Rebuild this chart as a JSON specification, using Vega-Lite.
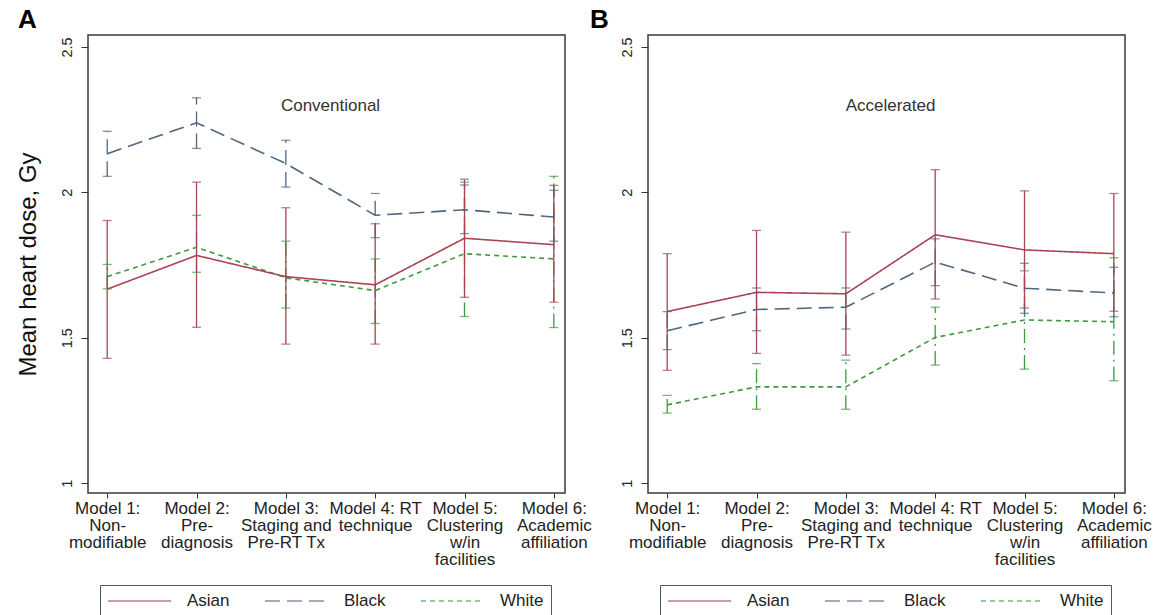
{
  "$schema": "https://vega.github.io/schema/vega-lite/v6.json",
  "padding": {"left": 15, "top": 6, "right": 0, "bottom": 0},
  "datasets": {
    "pts": [
      {"panel": "A", "race": "White", "model": 1, "mean": 1.710, "lo": 1.668, "hi": 1.752},
      {"panel": "A", "race": "White", "model": 2, "mean": 1.811, "lo": 1.725, "hi": 1.921},
      {"panel": "A", "race": "White", "model": 3, "mean": 1.706, "lo": 1.602, "hi": 1.832},
      {"panel": "A", "race": "White", "model": 4, "mean": 1.662, "lo": 1.549, "hi": 1.771},
      {"panel": "A", "race": "White", "model": 5, "mean": 1.789, "lo": 1.573, "hi": 2.035},
      {"panel": "A", "race": "White", "model": 6, "mean": 1.771, "lo": 1.535, "hi": 2.055},
      {"panel": "A", "race": "Black", "model": 1, "mean": 2.133, "lo": 2.055, "hi": 2.210},
      {"panel": "A", "race": "Black", "model": 2, "mean": 2.239, "lo": 2.151, "hi": 2.325},
      {"panel": "A", "race": "Black", "model": 3, "mean": 2.099, "lo": 2.018, "hi": 2.179},
      {"panel": "A", "race": "Black", "model": 4, "mean": 1.921, "lo": 1.844, "hi": 1.996},
      {"panel": "A", "race": "Black", "model": 5, "mean": 1.940, "lo": 1.858, "hi": 2.025},
      {"panel": "A", "race": "Black", "model": 6, "mean": 1.915, "lo": 1.832, "hi": 2.007},
      {"panel": "A", "race": "Asian", "model": 1, "mean": 1.667, "lo": 1.429, "hi": 1.903},
      {"panel": "A", "race": "Asian", "model": 2, "mean": 1.783, "lo": 1.536, "hi": 2.035},
      {"panel": "A", "race": "Asian", "model": 3, "mean": 1.710, "lo": 1.478, "hi": 1.947},
      {"panel": "A", "race": "Asian", "model": 4, "mean": 1.682, "lo": 1.478, "hi": 1.892},
      {"panel": "A", "race": "Asian", "model": 5, "mean": 1.842, "lo": 1.639, "hi": 2.045},
      {"panel": "A", "race": "Asian", "model": 6, "mean": 1.820, "lo": 1.622, "hi": 2.024},
      {"panel": "B", "race": "White", "model": 1, "mean": 1.269, "lo": 1.241, "hi": 1.302},
      {"panel": "B", "race": "White", "model": 2, "mean": 1.331, "lo": 1.254, "hi": 1.411},
      {"panel": "B", "race": "White", "model": 3, "mean": 1.331, "lo": 1.254, "hi": 1.423},
      {"panel": "B", "race": "White", "model": 4, "mean": 1.501, "lo": 1.406, "hi": 1.605},
      {"panel": "B", "race": "White", "model": 5, "mean": 1.561, "lo": 1.392, "hi": 1.730},
      {"panel": "B", "race": "White", "model": 6, "mean": 1.555, "lo": 1.352, "hi": 1.775},
      {"panel": "B", "race": "Black", "model": 1, "mean": 1.524, "lo": 1.459, "hi": 1.590},
      {"panel": "B", "race": "Black", "model": 2, "mean": 1.597, "lo": 1.524, "hi": 1.671},
      {"panel": "B", "race": "Black", "model": 3, "mean": 1.605, "lo": 1.530, "hi": 1.671},
      {"panel": "B", "race": "Black", "model": 4, "mean": 1.760, "lo": 1.679, "hi": 1.840},
      {"panel": "B", "race": "Black", "model": 5, "mean": 1.670, "lo": 1.584, "hi": 1.756},
      {"panel": "B", "race": "Black", "model": 6, "mean": 1.654, "lo": 1.572, "hi": 1.742},
      {"panel": "B", "race": "Asian", "model": 1, "mean": 1.590, "lo": 1.388, "hi": 1.789},
      {"panel": "B", "race": "Asian", "model": 2, "mean": 1.656, "lo": 1.446, "hi": 1.869},
      {"panel": "B", "race": "Asian", "model": 3, "mean": 1.651, "lo": 1.440, "hi": 1.863},
      {"panel": "B", "race": "Asian", "model": 4, "mean": 1.854, "lo": 1.633, "hi": 2.078},
      {"panel": "B", "race": "Asian", "model": 5, "mean": 1.802, "lo": 1.602, "hi": 2.005},
      {"panel": "B", "race": "Asian", "model": 6, "mean": 1.789, "lo": 1.591, "hi": 1.996}
    ]
  },
  "spacing": -3,
  "hconcat": [
    {
      "title": {"text": "A", "dx": 2},
      "width": 477,
      "height": 458,
      "layer": [
        {
          "data": {"name": "pts"},
          "transform": [{"filter": "datum.panel === 'A'"}],
          "encoding": {
            "x": {"field": "model", "type": "quantitative", "scale": {"domain": [0.785, 6.125], "nice": false, "zero": false}, "axis": {"title": null, "values": [1, 2, 3, 4, 5, 6], "labelExpr": "datum.value == 1 ? ['Model 1:', 'Non-', 'modifiable'] : datum.value == 2 ? ['Model 2:', 'Pre-', 'diagnosis'] : datum.value == 3 ? ['Model 3:', 'Staging and', 'Pre-RT Tx'] : datum.value == 4 ? ['Model 4: RT', 'technique'] : datum.value == 5 ? ['Model 5:', 'Clustering', 'w/in', 'facilities'] : ['Model 6:', 'Academic', 'affiliation']"}},
            "color": {"field": "race", "type": "nominal", "scale": {"domain": ["Asian", "Black", "White"], "range": ["#ab4352", "#4e6680", "#3d9a3d"]}, "legend": {"title": null, "symbolType": "stroke"}}
          },
          "layer": [
            {
              "mark": {"type": "rule", "strokeWidth": 1.3},
              "encoding": {
                "y": {"field": "lo", "type": "quantitative", "scale": {"domain": [0.966, 2.541], "nice": false, "zero": false}, "title": "Mean heart dose, Gy", "axis": {"values": [1, 1.5, 2, 2.5], "format": "~g"}},
                "y2": {"field": "hi"},
                "strokeDash": {"condition": [{"test": "datum.race === 'Black'", "value": [15, 7]}, {"test": "datum.race === 'White'", "value": [14, 5, 2, 5]}], "value": [1, 0]}
              }
            },
            {
              "mark": {"type": "tick", "orient": "horizontal", "size": 9, "thickness": 1.3},
              "encoding": {"y": {"field": "lo", "type": "quantitative", "title": "Mean heart dose, Gy", "axis": {"values": [1, 1.5, 2, 2.5], "format": "~g"}}}
            },
            {
              "mark": {"type": "tick", "orient": "horizontal", "size": 9, "thickness": 1.3},
              "encoding": {"y": {"field": "hi", "type": "quantitative", "title": "Mean heart dose, Gy", "axis": {"values": [1, 1.5, 2, 2.5], "format": "~g"}}}
            },
            {
              "mark": {"type": "line", "strokeWidth": 1.6},
              "encoding": {
                "y": {"field": "mean", "type": "quantitative", "title": "Mean heart dose, Gy", "axis": {"values": [1, 1.5, 2, 2.5], "format": "~g"}},
                "strokeDash": {"field": "race", "type": "nominal", "scale": {"domain": ["Asian", "Black", "White"], "range": [[1, 0], [15, 7], [5, 4]]}, "legend": {"title": null}}
              }
            }
          ]
        },
        {
          "data": {"values": [{"note": "Conventional"}]},
          "mark": {"type": "text", "fontSize": 17, "color": "#333", "align": "center", "baseline": "middle"},
          "encoding": {
            "x": {"datum": 3.5, "type": "quantitative"},
            "y": {"datum": 2.297, "type": "quantitative"},
            "text": {"field": "note"}
          }
        }
      ]
    },
    {
      "title": {"text": "B", "dx": -29},
      "width": 477,
      "height": 458,
      "layer": [
        {
          "data": {"name": "pts"},
          "transform": [{"filter": "datum.panel === 'B'"}],
          "encoding": {
            "x": {"field": "model", "type": "quantitative", "scale": {"domain": [0.785, 6.125], "nice": false, "zero": false}, "axis": {"title": null, "values": [1, 2, 3, 4, 5, 6], "labelExpr": "datum.value == 1 ? ['Model 1:', 'Non-', 'modifiable'] : datum.value == 2 ? ['Model 2:', 'Pre-', 'diagnosis'] : datum.value == 3 ? ['Model 3:', 'Staging and', 'Pre-RT Tx'] : datum.value == 4 ? ['Model 4: RT', 'technique'] : datum.value == 5 ? ['Model 5:', 'Clustering', 'w/in', 'facilities'] : ['Model 6:', 'Academic', 'affiliation']"}},
            "color": {"field": "race", "type": "nominal", "scale": {"domain": ["Asian", "Black", "White"], "range": ["#ab4352", "#4e6680", "#3d9a3d"]}, "legend": {"title": null, "symbolType": "stroke"}}
          },
          "layer": [
            {
              "mark": {"type": "rule", "strokeWidth": 1.3},
              "encoding": {
                "y": {"field": "lo", "type": "quantitative", "scale": {"domain": [0.966, 2.541], "nice": false, "zero": false}, "title": null, "axis": {"values": [1, 1.5, 2, 2.5], "format": "~g"}},
                "y2": {"field": "hi"},
                "strokeDash": {"condition": [{"test": "datum.race === 'Black'", "value": [15, 7]}, {"test": "datum.race === 'White'", "value": [14, 5, 2, 5]}], "value": [1, 0]}
              }
            },
            {
              "mark": {"type": "tick", "orient": "horizontal", "size": 9, "thickness": 1.3},
              "encoding": {"y": {"field": "lo", "type": "quantitative", "title": null, "axis": {"values": [1, 1.5, 2, 2.5], "format": "~g"}}}
            },
            {
              "mark": {"type": "tick", "orient": "horizontal", "size": 9, "thickness": 1.3},
              "encoding": {"y": {"field": "hi", "type": "quantitative", "title": null, "axis": {"values": [1, 1.5, 2, 2.5], "format": "~g"}}}
            },
            {
              "mark": {"type": "line", "strokeWidth": 1.6},
              "encoding": {
                "y": {"field": "mean", "type": "quantitative", "title": null, "axis": {"values": [1, 1.5, 2, 2.5], "format": "~g"}},
                "strokeDash": {"field": "race", "type": "nominal", "scale": {"domain": ["Asian", "Black", "White"], "range": [[1, 0], [15, 7], [5, 4]]}, "legend": {"title": null}}
              }
            }
          ]
        },
        {
          "data": {"values": [{"note": "Accelerated"}]},
          "mark": {"type": "text", "fontSize": 17, "color": "#333", "align": "center", "baseline": "middle"},
          "encoding": {
            "x": {"datum": 3.5, "type": "quantitative"},
            "y": {"datum": 2.297, "type": "quantitative"},
            "text": {"field": "note"}
          }
        }
      ]
    }
  ],
  "resolve": {
    "scale": {"color": "independent", "strokeDash": "independent"},
    "legend": {"color": "independent", "strokeDash": "independent"}
  },
  "config": {
    "font": "Liberation Sans",
    "view": {"stroke": "#3a3a3a", "strokeWidth": 1.5},
    "axis": {"grid": false, "domain": false, "tickColor": "#333", "labelColor": "#222", "titleColor": "#111"},
    "axisY": {"labelAngle": -90, "labelAlign": "center", "labelBaseline": "bottom", "labelFontSize": 14.5, "tickSize": 7, "labelPadding": 7, "titleFontSize": 24, "titleFontWeight": "normal", "titlePadding": 19},
    "axisX": {"tickSize": 5, "labelFontSize": 17, "labelLineHeight": 17, "labelPadding": 2, "labelOverlap": false, "labelFlush": false, "labelBound": false},
    "legend": {"orient": "none", "legendX": 12, "legendY": 550, "direction": "horizontal", "symbolType": "stroke", "symbolSize": 3969, "symbolStrokeWidth": 1.5, "clipHeight": 18, "labelFontSize": 17, "labelColor": "#222", "labelOffset": 15, "columnPadding": 34, "padding": 7, "strokeColor": "#555"},
    "title": {"fontSize": 26, "fontWeight": "bold", "anchor": "start", "color": "#000", "offset": 2, "baseline": "alphabetic"}
  }
}
